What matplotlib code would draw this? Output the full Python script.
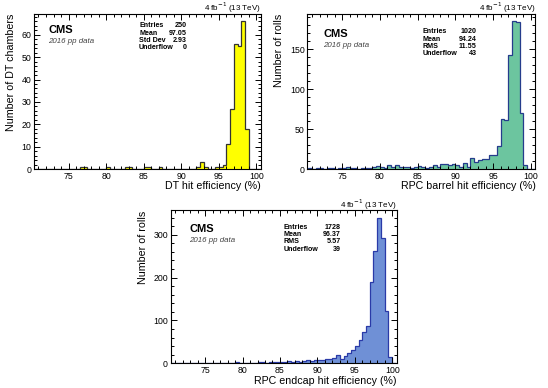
# CMS muon detector hit efficiency histograms (DT, RPC barrel, RPC endcap)
import numpy as np
import matplotlib
matplotlib.use("Agg")
import matplotlib.pyplot as plt
from matplotlib.ticker import MultipleLocator

plt.rcParams['font.family'] = ['Liberation Sans', 'DejaVu Sans']

# bins of 0.5 % starting at 70.5 %, 10 bins per row
bin_start = 70.5
bin_width = 0.5

dt_counts = [
    0, 0, 0, 0, 0, 0, 0, 0, 0, 0,
    0, 0, 1, 1, 0, 0, 0, 0, 0, 1,
    0, 0, 0, 0, 1, 1, 0, 0, 0, 1,
    1, 0, 0, 1, 0, 0, 0, 0, 0, 0,
    0, 0, 0, 1, 3, 1, 0, 0, 1, 1,
    2, 11, 27, 56, 55, 66, 18, 0, 0, 0,
]
barrel_counts = [
    1, 0, 1, 1, 0, 1, 1, 0, 1, 1,
    2, 1, 1, 0, 1, 1, 1, 2, 4, 2,
    1, 5, 2, 5, 3, 2, 2, 1, 3, 4,
    2, 1, 3, 5, 3, 6, 6, 5, 6, 5,
    3, 8, 3, 14, 9, 11, 12, 13, 17, 17,
    29, 63, 62, 143, 185, 184, 70, 5, 0, 0,
]
endcap_counts = [
    1, 1, 1, 0, 1, 1, 1, 1, 0, 1,
    1, 1, 1, 0, 1, 1, 1, 2, 1, 1,
    1, 1, 1, 2, 2, 1, 2, 3, 2, 2,
    4, 5, 3, 6, 4, 5, 7, 6, 8, 7,
    8, 10, 10, 13, 19, 10, 17, 23, 31, 40,
    55, 72, 87, 190, 262, 340, 293, 122, 15, 0,
]

dt_stats = [("Entries", "250"), ("Mean", "97.05"), ("Std Dev", "2.93"), ("Underflow", "0")]
barrel_stats = [("Entries", "1020"), ("Mean", "94.24"), ("RMS", "11.55"), ("Underflow", "43")]
endcap_stats = [("Entries", "1728"), ("Mean", "96.37"), ("RMS", "5.57"), ("Underflow", "39")]


def draw_panel(ax, counts, fill, edge, xlabel, ylabel, stats, ymaj, ymin,
               cms_xy, stat_x, stat_y):
    counts = np.array(counts)
    edges = bin_start + bin_width * np.arange(len(counts) + 1)
    ax.stairs(counts, edges, fill=True, color=fill, lw=0)
    ax.stairs(counts, edges, color=edge, lw=0.9, baseline=0)
    ax.set_xlim(70.4, 100.6)
    ax.set_ylim(0, counts.max() * 1.05)
    ax.xaxis.set_major_locator(MultipleLocator(5))
    ax.xaxis.set_minor_locator(MultipleLocator(1))
    ax.yaxis.set_major_locator(MultipleLocator(ymaj))
    ax.yaxis.set_minor_locator(MultipleLocator(ymin))
    ax.tick_params(which='both', direction='in', top=True, right=True,
                   labelsize=6.3, width=0.7, pad=2)
    ax.tick_params(which='major', length=4)
    ax.tick_params(which='minor', length=2)
    for s in ax.spines.values():
        s.set_linewidth(0.8)
    ax.set_xlabel(xlabel, fontsize=7.7, ha='right', x=1.0, labelpad=0.5)
    ax.set_ylabel(ylabel, fontsize=7.7, ha='right', y=1.0, labelpad=4)
    ax.text(cms_xy[0], cms_xy[1], "CMS", transform=ax.transAxes,
            fontsize=8, fontweight='bold', va='center')
    ax.text(cms_xy[0], cms_xy[1] - 0.075, "2016 pp data", transform=ax.transAxes,
            fontsize=5.7, style='italic', color='#444444', va='center')
    for i, (name, val) in enumerate(stats):
        y = stat_y - i * 0.048
        ax.text(stat_x[0], y, name, transform=ax.transAxes, fontsize=5.1,
                fontweight='bold', va='center')
        ax.text(stat_x[1], y, val, transform=ax.transAxes, fontsize=5.1,
                fontweight='bold', va='center', ha='right')
    ax.text(1.0, 1.018, r"4 fb$^{-1}$ (13 TeV)", transform=ax.transAxes,
            fontsize=5.8, ha='right', va='baseline')


fig = plt.figure(figsize=(5.48, 3.88), dpi=100)
ax1 = fig.add_axes([0.062, 0.5644, 0.414, 0.3995])
ax2 = fig.add_axes([0.561, 0.5644, 0.416, 0.3995])
ax3 = fig.add_axes([0.3115, 0.0637, 0.4124, 0.3943])

draw_panel(ax1, dt_counts, '#ffff00', '#333333', "DT hit efficiency (%)",
           "Number of DT chambers", dt_stats, 10, 2,
           (0.063, 0.90), (0.463, 0.674), 0.925)
draw_panel(ax2, barrel_counts, '#6cc59f', '#253c8c', "RPC barrel hit efficiency (%)",
           "Number of rolls", barrel_stats, 50, 10,
           (0.07, 0.87), (0.506, 0.743), 0.886)
draw_panel(ax3, endcap_counts, '#6f90d6', '#2a3aa8', "RPC endcap hit efficiency (%)",
           "Number of rolls", endcap_stats, 100, 20,
           (0.082, 0.88), (0.50, 0.752), 0.89)

fig.savefig("out.png", dpi=100)
